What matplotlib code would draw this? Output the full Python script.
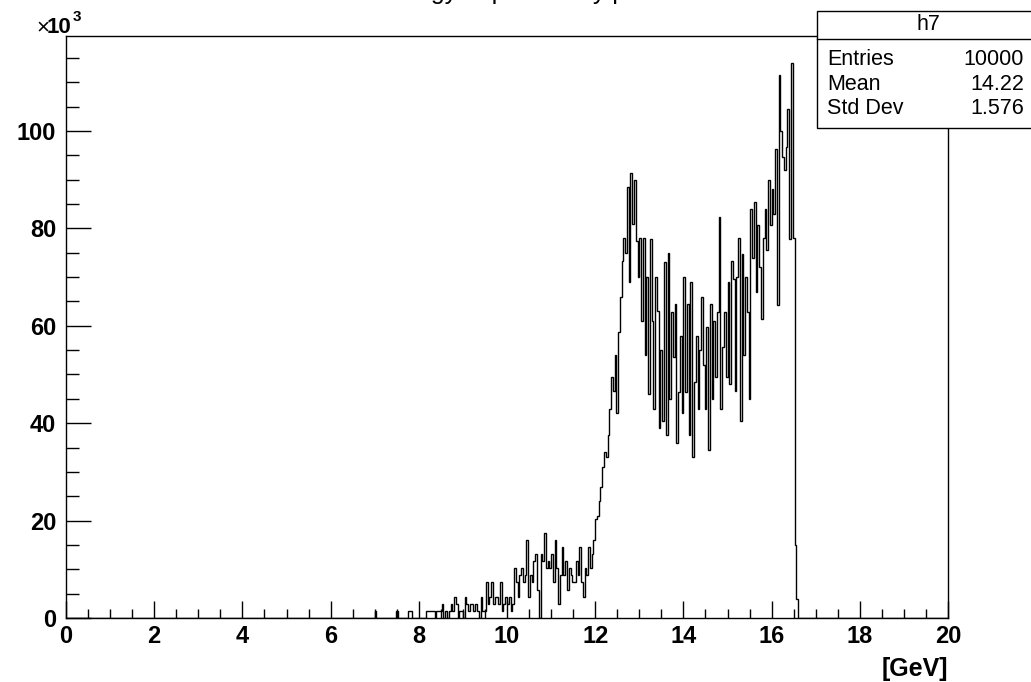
import numpy as np
import matplotlib
matplotlib.use('Agg')
import matplotlib.pyplot as plt
from matplotlib.ticker import MultipleLocator
from matplotlib.patches import Rectangle

plt.rcParams['font.family'] = ['Liberation Sans', 'DejaVu Sans']

### Data (bin contents in units of 10^3, 0.04 GeV bins starting at 7.00 GeV)
first_edge = 7.0
bin_width = 0.04
counts_k = [
    1.4, 0, 0, 0, 0, 0, 0, 0, 0, 0, 0, 0,
    1.4, 0, 0, 0, 0, 0, 0, 1.4, 1.4, 0, 0, 0, 0, 0, 0, 0, 0,
    1.4, 1.4, 1.4, 1.4, 1.4, 0, 1.4, 1.4, 1.4, 2.9, 0, 1.4, 0, 1.4, 2.9, 1.4, 4.4, 2.9, 0, 1.4, 1.4, 0,
    4.4, 2.9, 1.4, 2.9, 2.9, 1.4, 2.9, 1.4, 0, 4.4, 1.4, 1.4, 7.3, 2.9, 4.4, 7.3, 2.9, 4.4, 4.4, 2.9, 7.3, 1.4, 2.9, 4.4, 2.9,
    4.4, 1.4, 2.9, 10.2, 7.3, 4.4, 8.8, 10.2, 7.3, 8.8, 16.1, 4.4, 8.8, 7.3, 11.7, 13.1, 5.8, 0, 13.1, 11.7, 17.5, 10.2, 11.7, 10.2, 13.1,
    7.3, 16.1, 10.2, 2.9, 8.8, 14.6, 8.8, 11.7, 5.8, 10.2, 8.8, 7.3, 7.3, 11.7, 8.8, 14.6, 7.3, 4.4, 10.2, 8.8, 14.6, 10.2, 13.1, 16.1, 20.4,
    21, 24, 27, 31, 34, 33, 37.5, 43, 49.5, 46.7, 54, 42, 58.7, 66, 73.4, 78, 75, 88.5, 69, 91.4, 81, 90, 77.5, 70, 78,
    61, 78, 54, 70, 46, 77.9, 61, 43, 70, 63, 39, 55, 40.5, 73, 37.5, 75, 45, 62.8, 53.6, 64.5, 36, 46.4, 58, 42, 70,
    46.4, 64.5, 37.5, 69, 33, 48.4, 58, 43, 55, 66, 52, 43, 59.7, 34.4, 64.5, 45, 61, 49.5, 62.8, 82.3, 43, 55.6, 62.8, 49.5, 69,
    48, 73.4, 69.6, 46.7, 70, 78, 40.5, 74.8, 54, 70, 62.8, 45, 84, 74, 85.4, 67, 80.6, 72, 61.4, 78, 84, 75.5, 90, 80.6, 88,
    83, 96.4, 64.2, 111.4, 100, 94.7, 92, 96.7, 104.6, 77.9, 114, 78, 15, 4,
]
stat_names = ['Entries', 'Mean', 'Std Dev']
stat_values = ['10000', '14.22', '1.576']
hist_name = 'h7'
title = 'Energy deposited by protons'

W, H = 1031, 682

def px(x, y):
    # pixel position (from top-left) -> figure fraction
    return x / W, 1 - y / H

### Figure
fig = plt.figure(figsize=(W / 100, H / 100), dpi=100)
ax = fig.add_axes([66 / W, 1 - 618 / H, (948 - 66) / W, (618 - 36) / H])

# pad the histogram with empty bins over the full 0-20 GeV range
n_lead = int(round(first_edge / bin_width))
n_total = int(round(20 / bin_width))
vals = np.zeros(n_total)
vals[n_lead:n_lead + len(counts_k)] = counts_k
edges = np.linspace(0, 20, n_total + 1)
ax.stairs(vals, edges, color='black', lw=1, baseline=0)

ax.set_xlim(0, 20)
ax.set_ylim(0, 119.5)
ax.xaxis.set_major_locator(MultipleLocator(2))
ax.xaxis.set_minor_locator(MultipleLocator(0.5))
ax.yaxis.set_major_locator(MultipleLocator(20))
ax.yaxis.set_minor_locator(MultipleLocator(5))
ax.tick_params(axis='x', which='major', direction='in', length=12, width=1, pad=5,
               labelsize=17, top=False)
ax.tick_params(axis='x', which='minor', direction='in', length=6.5, width=1, top=False)
ax.tick_params(axis='y', which='major', direction='in', length=18, width=1, pad=7,
               labelsize=17, right=False)
ax.tick_params(axis='y', which='minor', direction='in', length=9, width=1, right=False)
for lab in ax.get_xticklabels() + ax.get_yticklabels():
    lab.set_fontweight('bold')
for s in ax.spines.values():
    s.set_linewidth(1)

# axis title and exponent
fig.text(*px(948, 676), '[GeV]', ha='right', va='baseline', fontsize=18, fontweight='bold')
fig.text(*px(36, 33), '\u00d7', ha='left', va='baseline', fontsize=16)
fig.text(*px(47, 33), '10', ha='left', va='baseline', fontsize=16, fontweight='bold')
fig.text(*px(73, 21), '3', ha='left', va='baseline', fontsize=11, fontweight='bold')

# histogram title, mostly outside the canvas
fig.text(*px(378, -1), title, ha='left', va='baseline', fontsize=18)

# stats box
fig.patches.append(Rectangle(px(817, 128), (1040 - 817) / W, (128 - 11) / H,
                             transform=fig.transFigure, facecolor='white',
                             edgecolor='black', lw=1, zorder=5))
fig.lines.append(plt.Line2D([817 / W, 1], [1 - 39 / H] * 2, transform=fig.transFigure,
                            color='black', lw=1, zorder=6))
fig.text(*px(928, 25), hist_name, ha='center', va='center', fontsize=15.5, zorder=7)
for k, (nm, v) in enumerate(zip(stat_names, stat_values)):
    yb = 65 + 24.5 * k
    fig.text(*px(827, yb), nm, ha='left', va='baseline', fontsize=15.5, zorder=7)
    fig.text(*px(1024, yb), v, ha='right', va='baseline', fontsize=15.5, zorder=7)

fig.savefig('out.png', dpi=100)
